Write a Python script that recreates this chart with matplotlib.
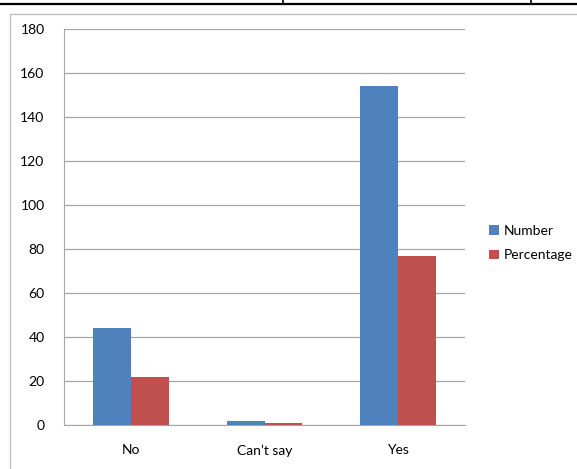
import numpy as np
import matplotlib
matplotlib.use("Agg")
import matplotlib.pyplot as plt
from matplotlib.patches import Rectangle
from matplotlib.lines import Line2D

plt.rcParams['font.family'] = ['Lato', 'DejaVu Sans']

categories = ["No", "Can\u2019t say", "Yes"]
number = [44, 2, 154]
percentage = [22, 1, 77]
yticks = [0, 20, 40, 60, 80, 100, 120, 140, 160, 180]

W, H = 577, 469
fig = plt.figure(figsize=(W / 100, H / 100), dpi=100)

# table border above the chart box
fig.add_artist(Line2D([0, 1], [1 - 4 / H, 1 - 4 / H], color='black', lw=1.6))
for xp in (283, 531):
    fig.add_artist(Line2D([xp / W, xp / W], [1, 1 - 4 / H], color='black', lw=1.2))

# chart box outline (runs off the right and bottom edges)
fig.add_artist(Rectangle((10 / W, -0.05), 1.0, 1 - 14 / H + 0.05,
                         transform=fig.transFigure, fill=False,
                         edgecolor='#BFBFBF', lw=1.0))

ax = fig.add_axes([64 / W, 1 - 425 / H, (465 - 64) / W, (425 - 29) / H])

x = np.arange(len(categories))
w = 0.284
b1 = ax.bar(x - w / 2, number, w, color='#4F81BD', label='Number', zorder=3)
b2 = ax.bar(x + w / 2, percentage, w, color='#C0504D', label='Percentage', zorder=3)

ax.set_xlim(-0.5, 2.5)
ax.set_ylim(0, 180)
ax.set_yticks(yticks)
ax.set_xticks(x)
ax.set_xticklabels(categories)
ax.yaxis.grid(True, color='#A6A6A6', lw=0.9, zorder=0)
ax.tick_params(axis='both', length=0, labelsize=10, colors='black')
ax.tick_params(axis='y', pad=14)
ax.tick_params(axis='x', pad=14)
for s in ('top', 'right'):
    ax.spines[s].set_visible(False)
ax.spines['left'].set_color('#A6A6A6')
ax.spines['bottom'].set_color('#A6A6A6')

fig.legend(handles=[b1, b2], loc='center left',
           bbox_to_anchor=(489 / W, 1 - 243 / H), frameon=False,
           borderpad=0, borderaxespad=0,
           fontsize=10, handlelength=0.7, handleheight=0.7,
           handletextpad=0.35, labelspacing=0.9)

fig.savefig("out.png", dpi=100)
